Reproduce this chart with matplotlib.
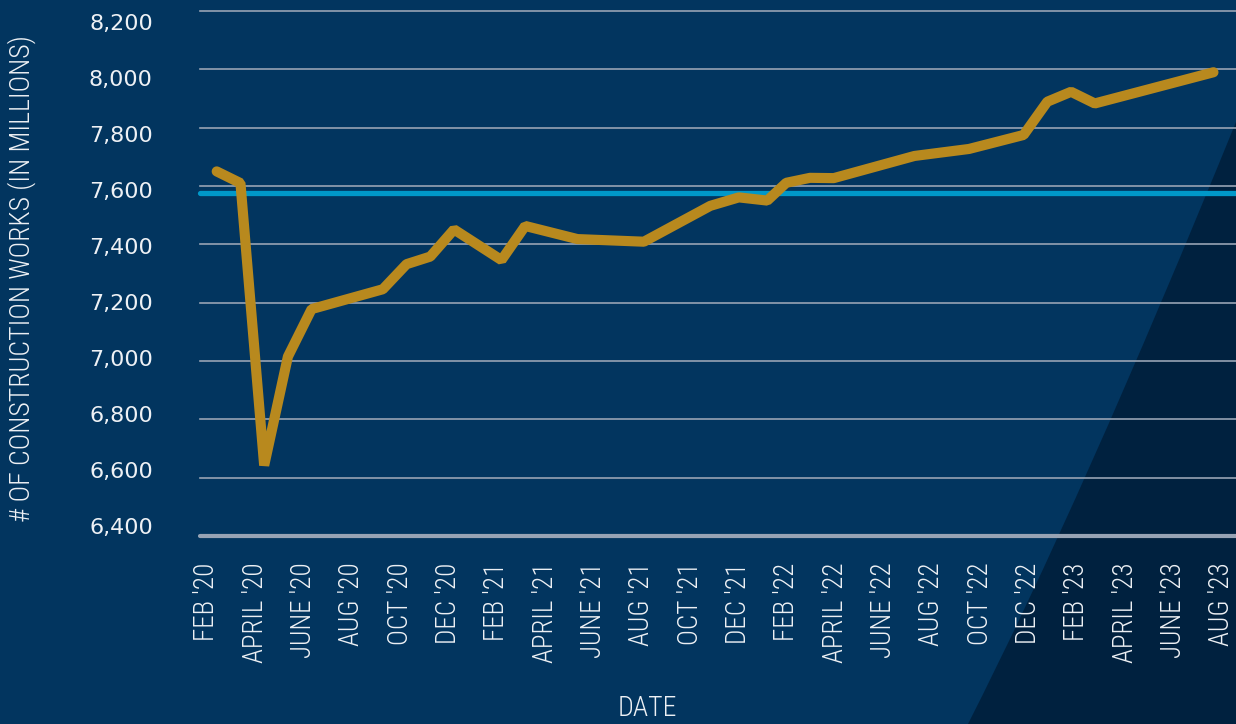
import matplotlib
matplotlib.use("Agg")
import matplotlib.pyplot as plt
from matplotlib import font_manager
from matplotlib.path import Path
from matplotlib.patches import PathPatch

# ---------------- data ----------------
# months since Feb 2020 (position of each vertex of the series) and values
months = [0, 1, 2, 3, 4, 7, 8, 9, 10, 12, 13, 15.2, 18, 20.8, 22, 23.2, 24,
          25, 26, 29.4, 31.7, 34, 35, 36, 37, 42]
workers = [7650, 7610, 6642, 7015, 7178, 7246, 7332, 7358, 7451, 7346, 7463,
           7418, 7409, 7532, 7561, 7550, 7611, 7628, 7627, 7703, 7727, 7775,
           7889, 7923, 7883, 7990]
reference_level = 7575

tick_months = list(range(0, 43, 2))
tick_labels = ["FEB '20", "APRIL '20", "JUNE '20", "AUG '20", "OCT '20",
               "DEC '20", "FEB '21", "APRIL '21", "JUNE '21", "AUG '21",
               "OCT '21", "DEC '21", "FEB '22", "APRIL '22", "JUNE '22",
               "AUG '22", "OCT '22", "DEC '22", "FEB '23", "APRIL '23",
               "JUNE '23", "AUG '23"]
y_ticks = list(range(6400, 8201, 200))
y_tick_labels = [f"{v:,}" for v in y_ticks]
y_title = "# OF CONSTRUCTION WORKS (IN MILLIONS)"
x_title = "DATE"

# ---------------- styling ----------------
BG = "#02355F"
DARK = "#00213F"
GOLD = "#B8891E"
CYAN = "#0098C9"
GRID = "#97A3B4"
TEXT = "#EEF1F5"

available = {f.name for f in font_manager.fontManager.ttflist}
narrow = next((n for n in ["Roboto Condensed", "Liberation Sans Narrow",
                           "DejaVu Sans Condensed", "Roboto", "DejaVu Sans"]
               if n in available), "DejaVu Sans")

W, H = 1236, 724
fig = plt.figure(figsize=(W / 100, H / 100), dpi=100, facecolor=BG)

# background layer with decorative dark wedge at bottom right
bg_ax = fig.add_axes([0, 0, 1, 1], zorder=-10)
bg_ax.set_xlim(0, 1)
bg_ax.set_ylim(0, 1)
bg_ax.axis("off")
verts = [(968 / W, 0), (1082 / W, 1 - 500 / H), (1.0, 1 - 122 / H),
         (1.0, 0), (968 / W, 0)]
codes = [Path.MOVETO, Path.CURVE3, Path.CURVE3, Path.LINETO, Path.CLOSEPOLY]
bg_ax.add_patch(PathPatch(Path(verts, codes), transform=bg_ax.transAxes,
                          facecolor=DARK, edgecolor="none"))

ax = fig.add_axes([200 / W, (H - 536) / H, 1036 / W, 525 / H])
ax.set_facecolor("none")
ax.set_xlim(-0.704, 42.95)
ax.set_ylim(6400, 8200)

for v in y_ticks[1:]:
    ax.axhline(v, color=GRID, lw=1.2, zorder=1, clip_on=False)
ax.axhline(y_ticks[0], color=GRID, lw=3.0, solid_capstyle="round",
           zorder=1, clip_on=False)
ax.axhline(reference_level, color=CYAN, lw=3.8, solid_capstyle="round",
           zorder=2, clip_on=False)
ax.plot(months, workers, color=GOLD, lw=7.3, solid_capstyle="round",
        solid_joinstyle="bevel", zorder=3, clip_on=False)

ax.set_xticks([])
ax.set_yticks([])
for s in ax.spines.values():
    s.set_visible(False)

ax.set_ylabel(y_title, fontsize=20, color=TEXT, family=narrow,
              fontweight="light")
ax.yaxis.set_label_coords(-0.158, 0.49)

# tick-label axes (labels are spaced slightly differently from the grid)
ay = ax.twinx()
ay.set_ylim(6366, 8241)
ay.yaxis.set_ticks_position("left")
ay.set_yticks(y_ticks)
ay.set_yticklabels(y_tick_labels, fontsize=16, color=TEXT,
                   family="DejaVu Sans")
ay.tick_params(axis="y", length=0, pad=34)
ay.set_xticks([])

ax2 = ax.twiny()
ax2.set_xlim(-0.281, 42.58)
ax2.xaxis.set_ticks_position("bottom")
ax2.set_xticks(tick_months)
ax2.set_xticklabels(tick_labels, rotation=90, fontsize=19.5, color=TEXT,
                    family=narrow, fontweight="light")
ax2.tick_params(axis="x", length=0, pad=19)
for a in (ay, ax2):
    for s in a.spines.values():
        s.set_visible(False)
    a.set_facecolor("none")

fig.text(647 / W, 1 - 709 / H, x_title, ha="center", va="center",
         fontsize=20, color=TEXT, family=narrow, fontweight="light")

fig.savefig("out.png", dpi=100, facecolor=BG)
